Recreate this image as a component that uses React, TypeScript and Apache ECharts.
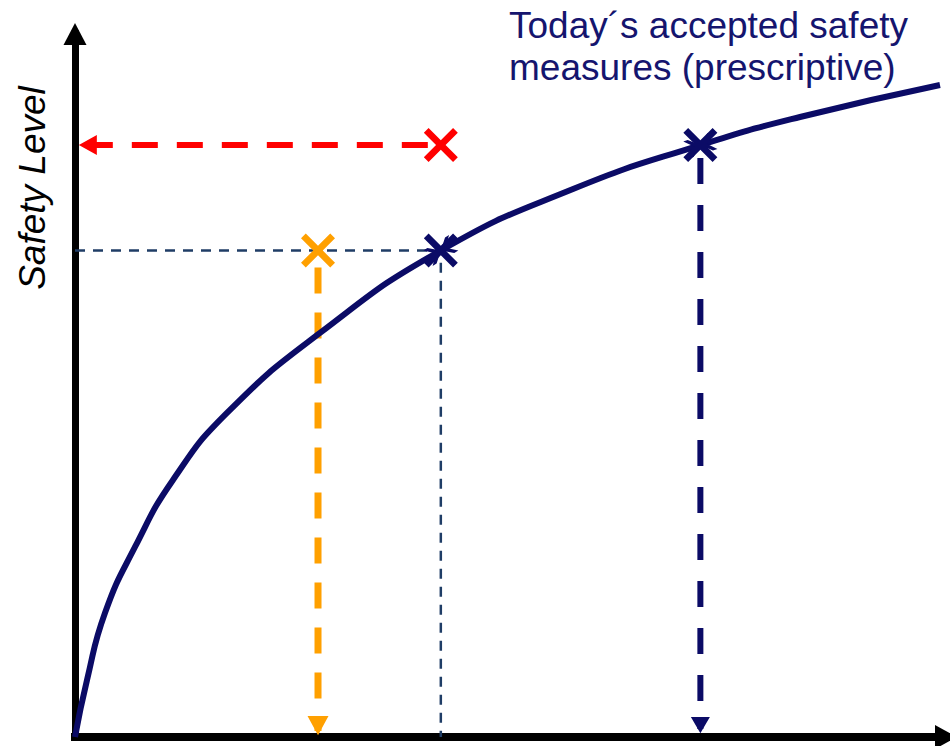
import React, { useEffect, useRef } from "react";
import * as echarts from "echarts";

// Curve: safety level achieved vs. effort (normalised 0–100 on both axes)
const curveX = [0, 1.38, 3.44, 6.89, 11.25, 17.45, 28.13, 42.0, 57.18, 71.8, 83.24, 99.31];
const curveY = [0, 8.11, 17.64, 27.03, 36.56, 46.09, 57.47, 69.2, 77.95, 84.2, 88.19, 92.75];

// Navy crosses on the curve (today's accepted measures)
const navyX = [42.0, 71.8];
const navyY = [69.2, 84.2];
// Red cross (target safety level)
const redX = [42.0];
const redY = [84.2];
// Orange cross (alternative)
const orangeX = [27.9];
const orangeY = [69.2];

// Where dashed arrows end
const redArrowEndX = 0.9;
const orangeArrowEndY = 0.85;
const navyArrowEndY = 1.14;

const NAVY = "#0b0b66";
const RED = "#ff0000";
const ORANGE = "#ffa000";
const SLATE = "#1f3d66";

const X_PATH = "path://M14,0 L50,36 L86,0 L100,14 L64,50 L100,86 L86,100 L50,64 L14,100 L0,86 L36,50 L0,14 Z";
const LEFT_ARROW = "path://M14,0 L14,20 L-4,10 Z M-14,10 L-14,10 Z";
const DOWN_ARROW_O = "path://M0,-14 L20,-14 L10,4 Z M10,14 L10,14 Z";
const DOWN_ARROW_N = "path://M0,-11 L18,-11 L9,4 Z M9,11 L9,11 Z";
const CHEVRON = "path://M0,0 L5,0 L16,10 L5,20 L0,20 L10,10 Z M32,10 L32,10 Z";

export default function App() {
  const ref = useRef<HTMLDivElement>(null);
  useEffect(() => {
    if (!ref.current) return;
    const chart = echarts.init(ref.current, undefined, { renderer: "svg" });
    const curve = curveX.map((x, i) => [x, curveY[i]]);
    const option: any = {
      animation: false,
      backgroundColor: "#ffffff",
      grid: { left: 75, right: 4, top: 34, bottom: 9, containLabel: false },
      xAxis: {
        type: "value",
        min: 0,
        max: 100,
        axisLine: {
          show: true,
          onZero: false,
          symbol: ["none", "triangle"],
          symbolSize: [24, 22],
          lineStyle: { color: "#000", width: 8, cap: "square" },
        },
        axisTick: { show: false },
        axisLabel: { show: false },
        splitLine: { show: false },
      },
      yAxis: {
        type: "value",
        min: 0,
        max: 100,
        axisLine: {
          show: true,
          onZero: false,
          symbol: ["none", "triangle"],
          symbolSize: [23, 22],
          lineStyle: { color: "#000", width: 7, cap: "square" },
        },
        axisTick: { show: false },
        axisLabel: { show: false },
        splitLine: { show: false },
      },
      graphic: [
        {
          type: "text",
          x: 509,
          y: 4,
          style: {
            text: "Today\u00b4s accepted safety\nmeasures (prescriptive)",
            font: '37px "Liberation Sans", Arial, sans-serif',
            lineHeight: 42,
            fill: "#15156e",
          },
        },
        {
          type: "text",
          x: 32,
          y: 188,
          rotation: Math.PI / 2,
          style: {
            text: "Safety Level",
            font: 'italic 37px "Liberation Sans", Arial, sans-serif',
            fill: "#000",
            align: "center",
            verticalAlign: "middle",
            textAlign: "center",
            textVerticalAlign: "middle",
          },
        },
      ],
      series: [
        {
          type: "line",
          z: 1,
          symbol: "none",
          clip: false,
          lineStyle: { color: SLATE, width: 2.5, type: [10, 8] },
          data: [
            [0, navyY[0]],
            [navyX[0], navyY[0]],
            [navyX[0], 0],
          ],
        },
        {
          type: "line",
          z: 2,
          symbol: "none",
          showSymbol: true,
          clip: false,
          itemStyle: { color: RED, opacity: 1 },
          lineStyle: { color: RED, width: 6, type: [26, 19], dashOffset: 32 },
          data: [
            { value: [redX[0], redY[0]] },
            { value: [redArrowEndX, redY[0]], symbol: LEFT_ARROW, symbolSize: [28, 20] },
          ],
        },
        {
          type: "line",
          z: 2,
          symbol: "none",
          showSymbol: true,
          clip: false,
          itemStyle: { color: ORANGE, opacity: 1 },
          lineStyle: { color: ORANGE, width: 7, type: [26, 19], dashOffset: 28 },
          data: [
            { value: [orangeX[0], orangeY[0]] },
            { value: [orangeX[0], orangeArrowEndY], symbol: DOWN_ARROW_O, symbolSize: [21, 30] },
          ],
        },
        {
          type: "line",
          z: 2,
          symbol: "none",
          showSymbol: true,
          clip: false,
          itemStyle: { color: NAVY, opacity: 1 },
          lineStyle: { color: NAVY, width: 6, type: [26, 21], dashOffset: 34 },
          data: [
            { value: [navyX[1], navyY[1]] },
            { value: [navyX[1], navyArrowEndY], symbol: DOWN_ARROW_N, symbolSize: [19, 24] },
          ],
        },
        {
          type: "line",
          z: 3,
          symbol: "none",
          smooth: 0.5,
          clip: false,
          lineStyle: { color: NAVY, width: 6 },
          data: curve,
        },
        {
          type: "scatter",
          z: 4,
          symbol: CHEVRON,
          symbolSize: [30, 18],
          itemStyle: { color: NAVY, opacity: 1 },
          data: [
            { value: [navyX[0], navyY[0]], symbolRotate: 31 },
            { value: [navyX[0], navyY[0]], symbolRotate: 211 },
            { value: [navyX[1], navyY[1]], symbolRotate: 19 },
            { value: [navyX[1], navyY[1]], symbolRotate: 198 },
          ],
        },
        {
          type: "scatter",
          z: 5,
          symbol: X_PATH,
          symbolSize: 34,
          itemStyle: { opacity: 1 },
          data: [
            ...navyX.map((x, i) => ({ value: [x, navyY[i]], itemStyle: { color: NAVY, opacity: 1 } })),
            ...redX.map((x, i) => ({ value: [x, redY[i]], itemStyle: { color: RED, opacity: 1 } })),
            ...orangeX.map((x, i) => ({ value: [x, orangeY[i]], itemStyle: { color: ORANGE, opacity: 1 } })),
          ],
        },
      ],
    };
    chart.setOption(option);
    return () => chart.dispose();
  }, []);
  return (
    <div
      ref={ref}
      style={{ position: "fixed", left: 0, top: 0, width: 950, height: 746, background: "#fff" }}
    />
  );
}
